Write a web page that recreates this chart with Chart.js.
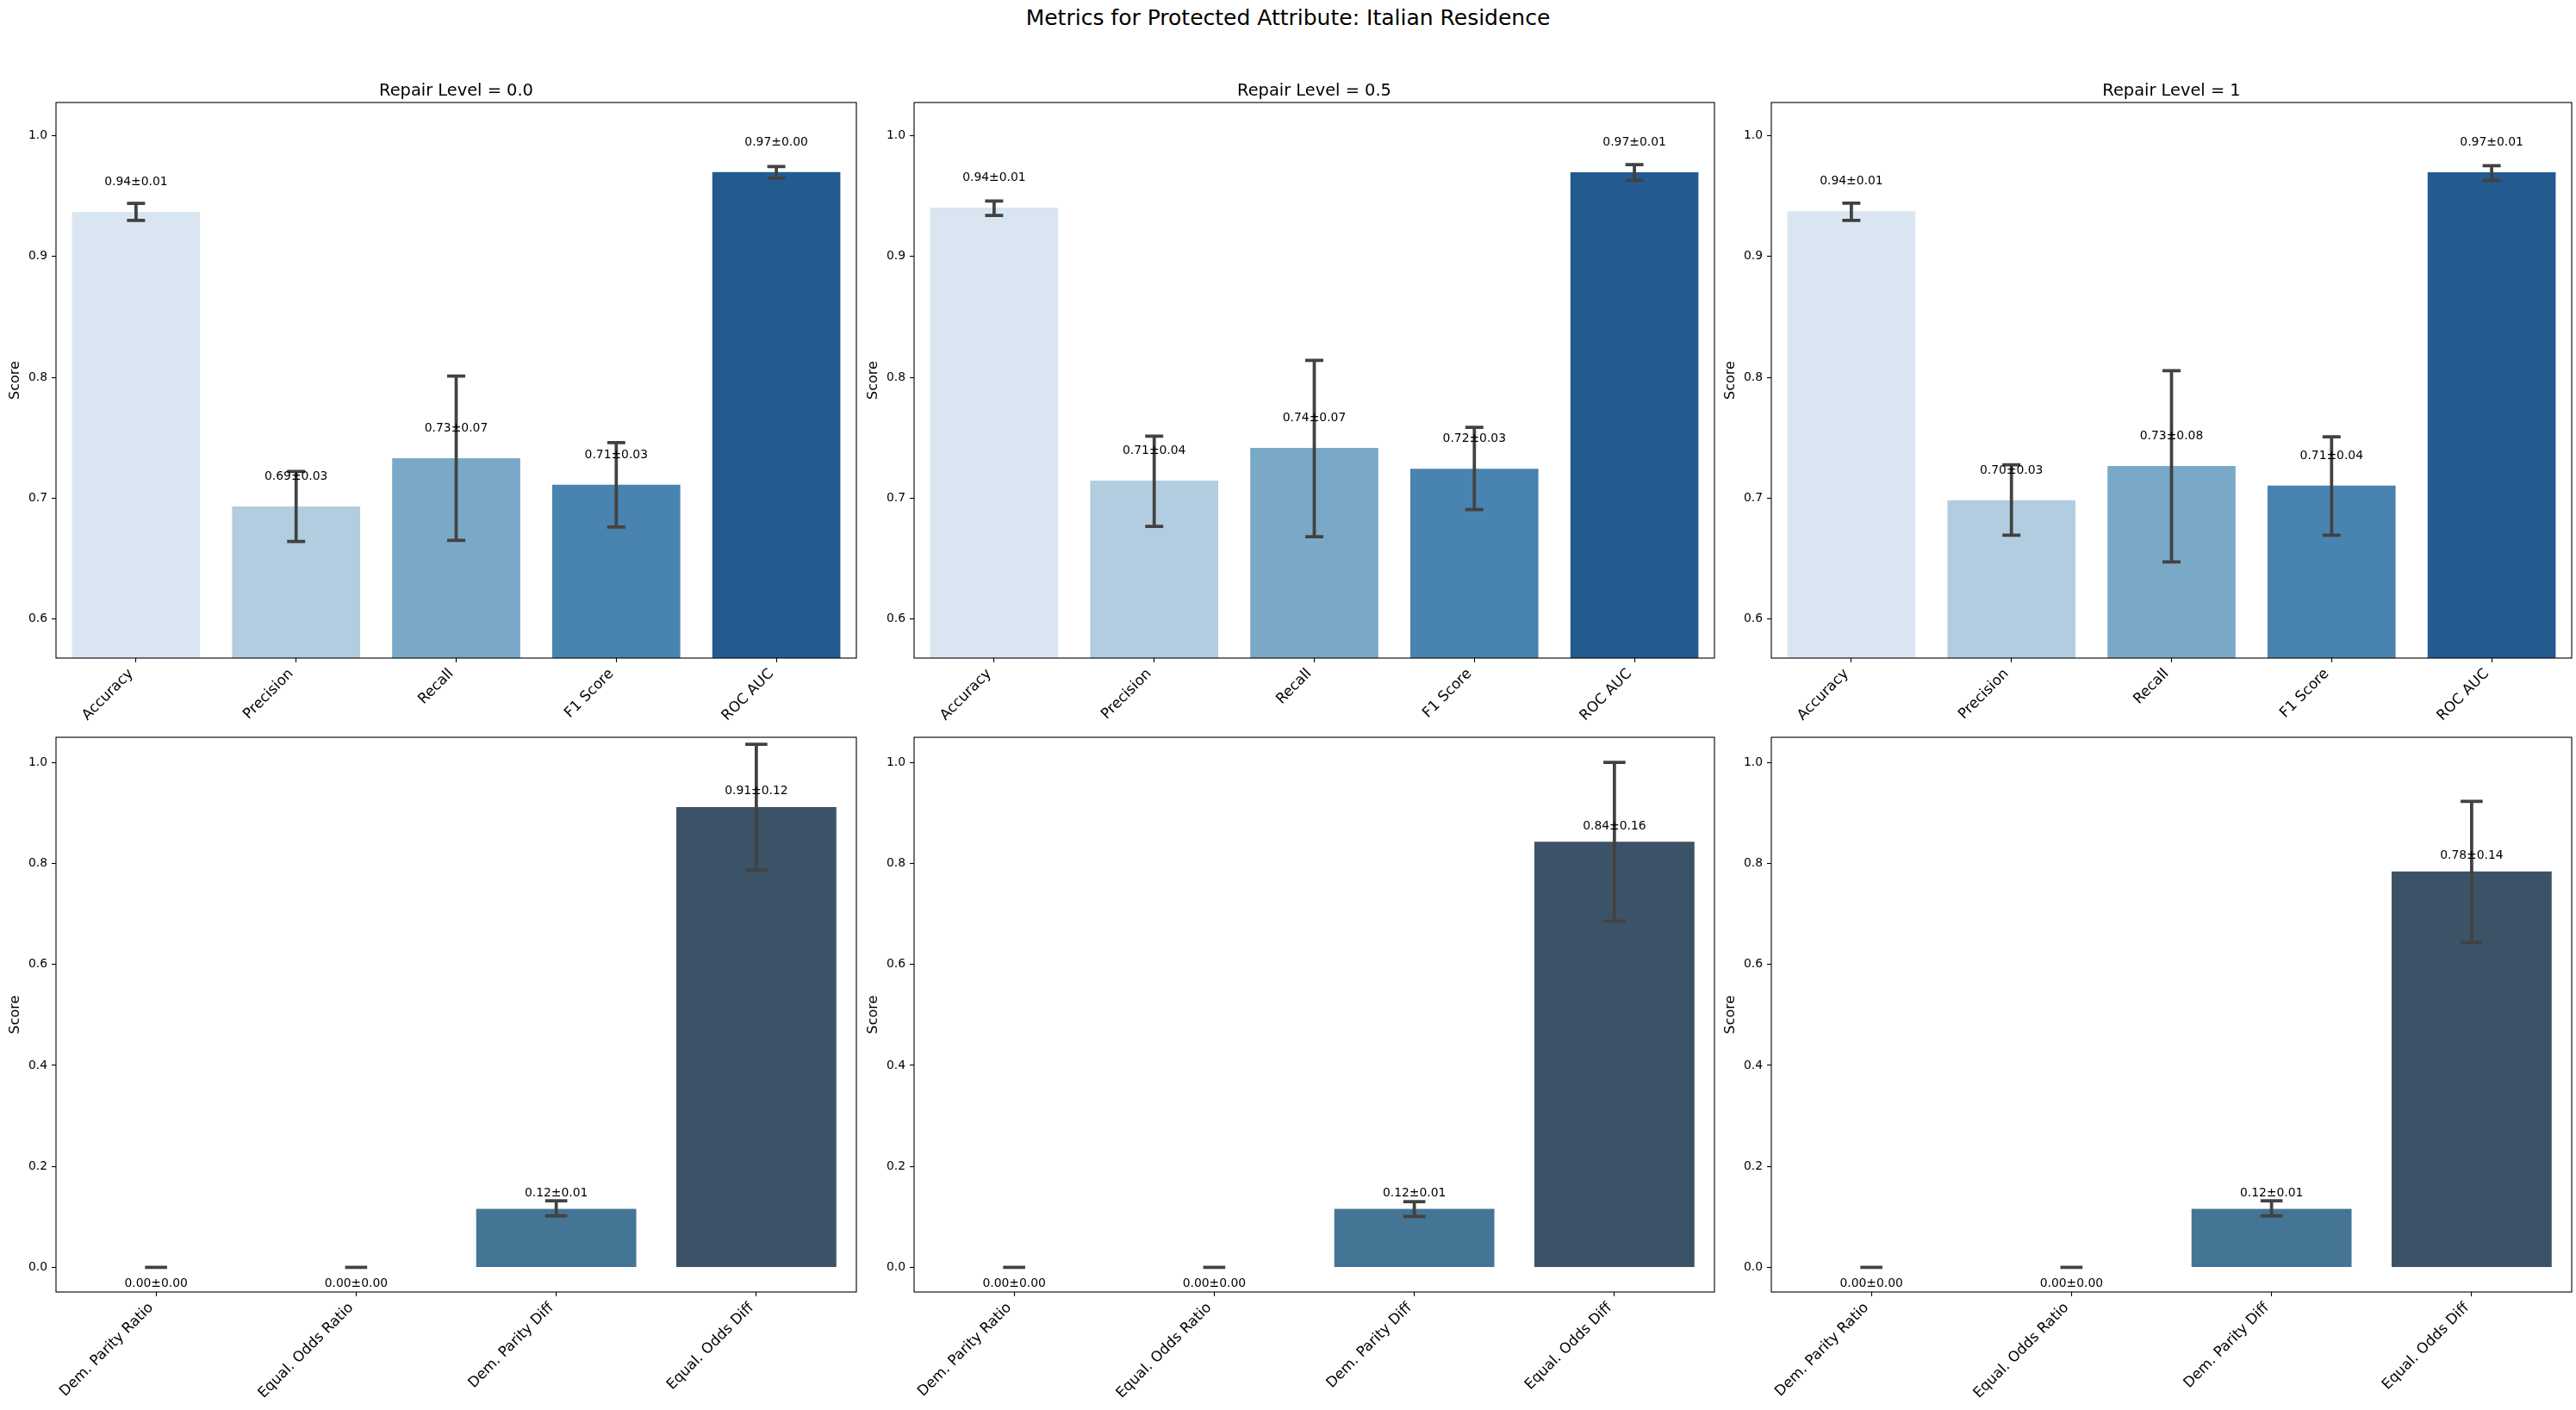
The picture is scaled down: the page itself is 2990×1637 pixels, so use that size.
<!DOCTYPE html>
<html>
<head>
<meta charset="utf-8">
<script src="https://cdn.jsdelivr.net/npm/chart.js@4.4.1/dist/chart.umd.min.js"></script>
<style>
body{margin:0;background:#fff;width:2990px;height:1637px;overflow:hidden;position:relative;font-family:'DejaVu Sans';}
#title{position:absolute;left:0;top:6px;width:2990px;text-align:center;font-size:25px;line-height:30px;color:#000;}
canvas{position:absolute;}
</style>
</head>
<body>
<div id="title">Metrics for Protected Attribute: Italian Residence</div>
<script>
// categories
const perfMetrics = ['Accuracy', 'Precision', 'Recall', 'F1 Score', 'ROC AUC']
const fairMetrics = ['Dem. Parity Ratio', 'Equal. Odds Ratio', 'Dem. Parity Diff', 'Equal. Odds Diff']
const repairLevels = ['0.0', '0.5', '1']

// performance metrics: mean, std (label), CI low / high (error bar)
const perf00 = [0.937, 0.693, 0.733, 0.711, 0.970]
const perf00Std = [0.01, 0.03, 0.07, 0.03, 0.00]
const perf00Lo = [0.930, 0.664, 0.665, 0.676, 0.965]
const perf00Hi = [0.944, 0.722, 0.801, 0.746, 0.9745]

const perf05 = [0.9405, 0.7144, 0.7415, 0.7242, 0.9698]
const perf05Std = [0.01, 0.04, 0.07, 0.03, 0.01]
const perf05Lo = [0.934, 0.6765, 0.668, 0.6905, 0.963]
const perf05Hi = [0.946, 0.7513, 0.814, 0.7586, 0.9762]

const perf1 = [0.9376, 0.6982, 0.7265, 0.7103, 0.9698]
const perf1Std = [0.01, 0.03, 0.08, 0.04, 0.01]
const perf1Lo = [0.930, 0.6692, 0.6472, 0.6692, 0.963]
const perf1Hi = [0.9443, 0.7275, 0.8055, 0.7507, 0.9752]

// fairness metrics
const fair00 = [0, 0, 0.116, 0.9115]
const fair00Std = [0, 0, 0.01, 0.12]
const fair00Lo = [0, 0, 0.102, 0.787]
const fair00Hi = [0, 0, 0.132, 1.036]

const fair05 = [0, 0, 0.116, 0.843]
const fair05Std = [0, 0, 0.01, 0.16]
const fair05Lo = [0, 0, 0.1006, 0.686]
const fair05Hi = [0, 0, 0.130, 1.000]

const fair1 = [0, 0, 0.116, 0.784]
const fair1Std = [0, 0, 0.01, 0.14]
const fair1Lo = [0, 0, 0.102, 0.6435]
const fair1Hi = [0, 0, 0.132, 0.923]

// axis limits / ticks
const perfYMin = 0.5675, perfYMax = 1.0276, perfStep = 0.1
const fairYMin = -0.0488, fairYMax = 1.0498, fairStep = 0.2

const perfColors = ['#d9e6f2', '#b3cde0', '#7aa9c8', '#4983b0', '#235b91']
const fairColors = ['#8fb0c8', '#6690ae', '#447595', '#3c5266']

const FONT = 'DejaVu Sans'

// layout (pixels)
const colLeft = [65, 1061, 2056]
const axW = 929
const rowTop = [119, 856]
const rowBottom = [764, 1500]
const canvasBottom = [854, 1637]

const perfSets = [[perf00, perf00Std, perf00Lo, perf00Hi], [perf05, perf05Std, perf05Lo, perf05Hi], [perf1, perf1Std, perf1Lo, perf1Hi]]
const fairSets = [[fair00, fair00Std, fair00Lo, fair00Hi], [fair05, fair05Std, fair05Lo, fair05Hi], [fair1, fair1Std, fair1Lo, fair1Hi]]

// draws errorbars, value labels, spines, titles and rotated tick labels
const decor = {
  id: 'decor',
  afterDatasetsDraw(chart, args, p) {
    const ctx = chart.ctx
    const a = chart.chartArea
    const x = chart.scales.x, y = chart.scales.y
    const catW = (a.right - a.left) / p.labels.length
    const half = 0.05 * catW + 1.2
    ctx.save()

    // error bars
    ctx.strokeStyle = '#424242'
    ctx.lineWidth = 3.75
    ctx.lineCap = 'butt'
    p.values.forEach((v, i) => {
      const cx = x.getPixelForValue(i)
      const yl = y.getPixelForValue(p.lo[i]), yh = y.getPixelForValue(p.hi[i])
      ctx.beginPath()
      ctx.moveTo(cx, yl); ctx.lineTo(cx, yh)
      ctx.moveTo(cx - half, yl); ctx.lineTo(cx + half, yl)
      ctx.moveTo(cx - half, yh); ctx.lineTo(cx + half, yh)
      ctx.stroke()
    })

    // value labels
    ctx.fillStyle = '#000'
    ctx.font = '13.9px "' + FONT + '"'
    ctx.textAlign = 'center'
    ctx.textBaseline = 'alphabetic'
    p.values.forEach((v, i) => {
      const cx = x.getPixelForValue(i)
      const txt = v.toFixed(2) + '±' + p.std[i].toFixed(2)
      if (v < 0.01) {
        ctx.fillText(txt, cx, y.getPixelForValue(v - 0.02) + 11)
      } else {
        ctx.fillText(txt, cx, y.getPixelForValue(v + 0.02) - 3)
      }
    })

    // spines
    ctx.strokeStyle = '#000'
    ctx.lineWidth = 1.1
    ctx.strokeRect(a.left, a.top, a.right - a.left, a.bottom - a.top)

    // subplot title
    if (p.title) {
      ctx.font = '19.4px "' + FONT + '"'
      ctx.textAlign = 'center'
      ctx.fillText(p.title, (a.left + a.right) / 2, a.top - 8.3)
    }

    // y label
    ctx.save()
    ctx.font = '16px "' + FONT + '"'
    ctx.translate(a.left - 47, (a.top + a.bottom) / 2)
    ctx.rotate(-Math.PI / 2)
    ctx.textAlign = 'center'
    ctx.textBaseline = 'middle'
    ctx.fillText('Score', 0, 0)
    ctx.restore()

    // x tick labels, rotated 45deg, right aligned at tick
    ctx.font = '16.7px "' + FONT + '"'
    ctx.textAlign = 'right'
    ctx.textBaseline = 'alphabetic'
    const y0 = a.bottom + 9.8
    p.labels.forEach((lab, i) => {
      const cx = x.getPixelForValue(i)
      ctx.save()
      ctx.translate(cx - 2.6, y0 + 9.0)
      ctx.rotate(-Math.PI / 4)
      ctx.fillText(lab, 0, 0)
      ctx.restore()
    })

    ctx.restore()
  }
}

function makePanel(row, col) {
  const isPerf = row === 0
  const set = isPerf ? perfSets[col] : fairSets[col]
  const p = {
    title: isPerf ? 'Repair Level = ' + repairLevels[col] : '',
    labels: isPerf ? perfMetrics : fairMetrics,
    values: set[0], std: set[1], lo: set[2], hi: set[3]
  }
  const top = rowTop[row] - 40
  const W = 1000, H = canvasBottom[row] - top
  const xH = H - 40 - (rowBottom[row] - rowTop[row])

  const cv = document.createElement('canvas')
  cv.width = W
  cv.height = H
  cv.style.left = (colLeft[col] - 65) + 'px'
  cv.style.top = top + 'px'
  cv.style.width = W + 'px'
  cv.style.height = H + 'px'
  document.body.appendChild(cv)

  new Chart(cv.getContext('2d'), {
    type: 'bar',
    data: {
      labels: p.labels,
      datasets: [{
        data: p.values,
        backgroundColor: isPerf ? perfColors : fairColors,
        borderWidth: 0,
        barPercentage: 0.8,
        categoryPercentage: 1.0
      }]
    },
    options: {
      responsive: false,
      animation: false,
      devicePixelRatio: 1,
      layout: {padding: {top: 40, right: W - 65 - axW, bottom: 0, left: 0}},
      plugins: {legend: {display: false}, tooltip: {enabled: false}, decor: p},
      scales: {
        x: {
          offset: true,
          border: {display: false},
          grid: {drawOnChartArea: false, offset: false, tickLength: 5, tickColor: '#000', tickWidth: 1.1},
          ticks: {display: false, autoSkip: false},
          afterFit(s) { s.height = xH }
        },
        y: {
          min: isPerf ? perfYMin : fairYMin,
          max: isPerf ? perfYMax : fairYMax,
          border: {display: false},
          grid: {drawOnChartArea: false, tickLength: 5, tickColor: '#000', tickWidth: 1.1},
          ticks: {
            stepSize: isPerf ? perfStep : fairStep,
            includeBounds: false,
            padding: 5,
            color: '#000',
            font: {family: FONT, size: 13.9},
            callback: v => Number(v).toFixed(1)
          },
          afterFit(s) { s.width = 65 }
        }
      }
    },
    plugins: [decor]
  })
}

for (let r = 0; r < 2; r++) {
  for (let c = 0; c < 3; c++) makePanel(r, c)
}
</script>
</body>
</html>
